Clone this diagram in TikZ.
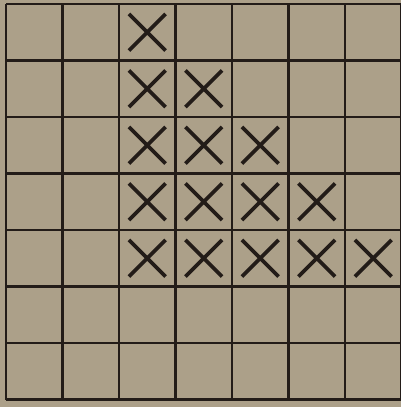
\documentclass[tikz,border=0pt]{standalone}
\usetikzlibrary{shapes.misc}
\definecolor{papel}{HTML}{ACA089}
\definecolor{tinta}{HTML}{231C18}

\begin{document}
\begin{tikzpicture}[x=0.5pt,y=-0.5pt,
  linea/.style={draw=tinta,line width=1.3pt},
  marca/.style={cross out,draw=tinta,line width=1.8pt,minimum size=16.5pt,inner sep=0pt}]
\fill[papel] (0,0) rectangle (401,407);
\useasboundingbox (0,0) rectangle (401,407);
% rejilla 7x7
\foreach \i in {0,...,7} {
  \draw[linea] ({6+56.5*\i},4) -- ({6+56.5*\i},399.5);
  \draw[linea] (6,{4+56.5*\i}) -- (401.5,{4+56.5*\i});
}
% cruces
\foreach \r in {0,...,4}
  \foreach \c in {0,...,\r}
    \node[marca] (x\r\c) at ({6+56.5*(\c+2.5)},{4+56.5*(\r+0.5)}) {};
\end{tikzpicture}
\end{document}
